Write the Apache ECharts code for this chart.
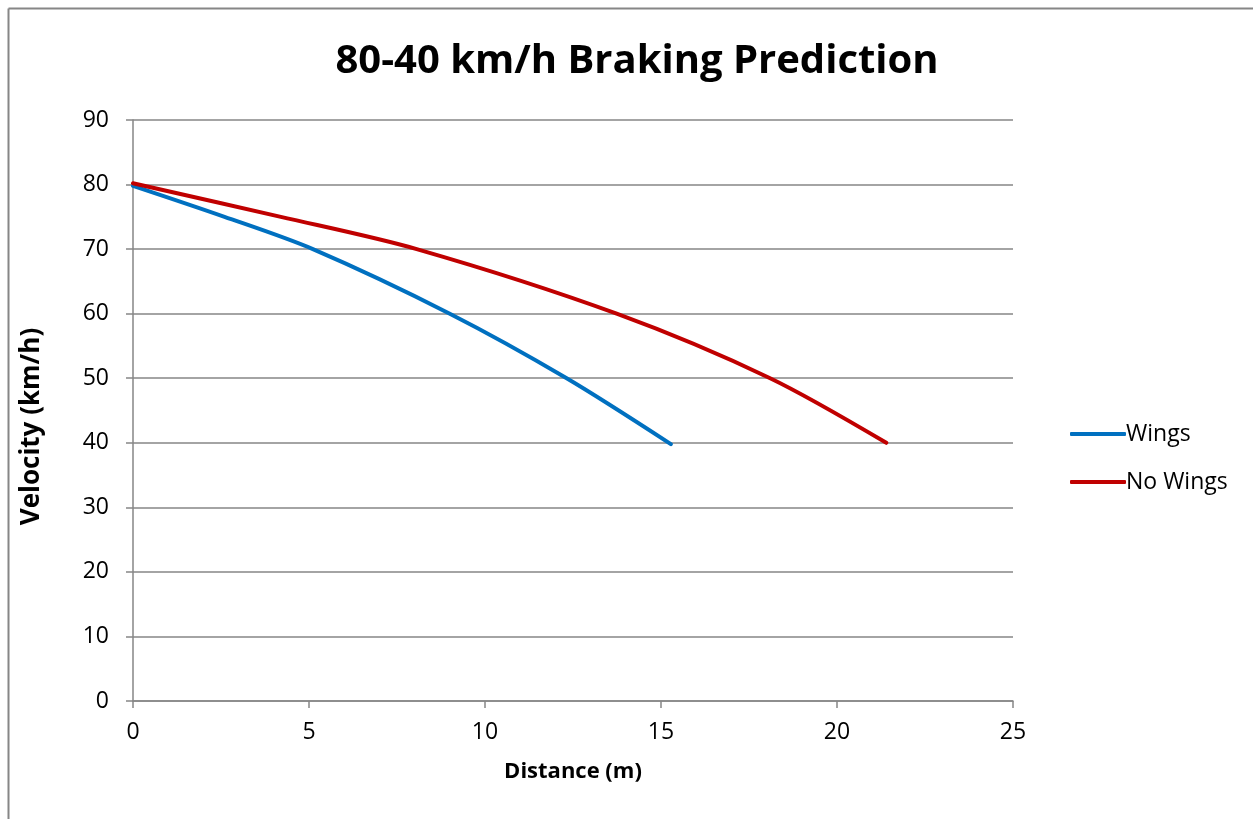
<!DOCTYPE html>
<html>
<head>
<meta charset="utf-8">
<script src="https://cdn.jsdelivr.net/npm/echarts@6/dist/echarts.min.js"></script>
<style>html,body{margin:0;padding:0;background:#fff;}#c{width:1253px;height:819px;}</style>
</head>
<body>
<div id="c"></div>
<script>
const title = '80-40 km/h Braking Prediction';
const xAxisName = 'Distance (m)';
const yAxisName = 'Velocity (km/h)';
const seriesNames = ['Wings', 'No Wings'];
// [distance (m), velocity (km/h)]
const wingsDistance = [0, 2.6, 5.11, 9.0, 12.32, 15.28];
const wingsVelocity = [79.8, 75, 70, 60, 50, 39.8];
const noWingsDistance = [0, 4.2, 8.06, 13.74, 18.1, 21.4];
const noWingsVelocity = [80.2, 75, 70, 60, 50, 40];

const zip = (a, b) => a.map((v, i) => [v, b[i]]);
const font = '"Open Sans", "Noto Sans", sans-serif';
const chart = echarts.init(document.getElementById('c'));
chart.setOption({
  animation: false,
  backgroundColor: '#fff',
  graphic: [
    { type: 'line', shape: { x1: 8.5, y1: 8.5, x2: 1253, y2: 8.5 }, style: { stroke: '#868686', lineWidth: 2 } },
    { type: 'line', shape: { x1: 8.5, y1: 8.5, x2: 8.5, y2: 819 }, style: { stroke: '#868686', lineWidth: 2 } }
  ],
  title: {
    text: title, left: 632, top: 37, textAlign: 'center',
    textStyle: { fontFamily: font, fontWeight: 'bold', fontSize: 40, color: '#000' }
  },
  legend: {
    orient: 'vertical', left: 1065, top: 417, itemGap: 24,
    itemWidth: 56, itemHeight: 4, icon: 'roundRect',
    textStyle: { fontFamily: font, fontSize: 23, lineHeight: 24, color: '#000', padding: [0, 0, 0, -5] },
    data: seriesNames
  },
  grid: { left: 133, right: 240, top: 120, bottom: 118 },
  xAxis: {
    type: 'value', min: 0, max: 25, interval: 5,
    name: xAxisName, nameLocation: 'middle', nameGap: 60,
    nameTextStyle: { fontFamily: font, fontWeight: 'bold', fontSize: 22, color: '#000' },
    axisLine: { lineStyle: { color: '#868686', width: 1.5 } },
    axisTick: { show: true, length: 7, lineStyle: { color: '#868686', width: 1.5 } },
    axisLabel: { fontFamily: font, fontSize: 23, color: '#000', margin: 20 },
    splitLine: { show: false }
  },
  yAxis: {
    type: 'value', min: 0, max: 90, interval: 10,
    name: yAxisName, nameLocation: 'middle', nameGap: 88, nameRotate: 90,
    nameTextStyle: { fontFamily: font, fontWeight: 'bold', fontSize: 26, color: '#000', padding: [0, 32, 0, 0] },
    axisLine: { show: true, lineStyle: { color: '#868686', width: 1.5 } },
    axisTick: { show: true, length: 7, lineStyle: { color: '#868686', width: 1.5 } },
    axisLabel: { fontFamily: font, fontSize: 23, color: '#000', margin: 24 },
    splitLine: { show: true, lineStyle: { color: '#868686', width: 1.5 } }
  },
  series: [
    { name: seriesNames[0], type: 'line', data: zip(wingsDistance, wingsVelocity), smooth: 0.3,
      showSymbol: false, symbol: 'none', color: '#0070C0', lineStyle: { width: 4, color: '#0070C0', cap: 'round' } },
    { name: seriesNames[1], type: 'line', data: zip(noWingsDistance, noWingsVelocity), smooth: 0.3,
      showSymbol: false, symbol: 'none', color: '#C00000', lineStyle: { width: 4, color: '#C00000', cap: 'round' } }
  ]
});
</script>
</body>
</html>
